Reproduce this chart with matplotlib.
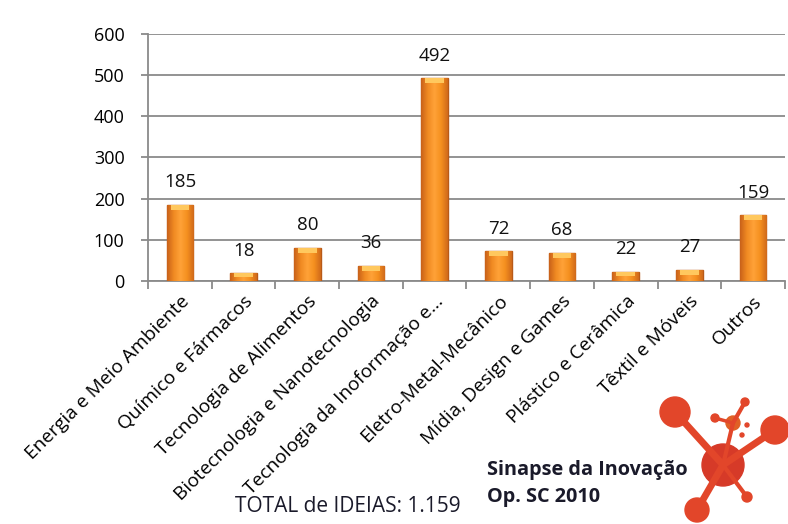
import matplotlib
matplotlib.use("Agg")
import matplotlib.pyplot as plt
import numpy as np
from matplotlib.patches import Circle
from matplotlib.colors import LinearSegmentedColormap

categories = ["Energia e Meio Ambiente", "Químico e Fármacos", "Tecnologia de Alimentos",
              "Biotecnologia e Nanotecnologia", "Tecnologia da Inoformação e...",
              "Eletro-Metal-Mecânico", "Mídia, Design e Games", "Plástico e Cerâmica",
              "Têxtil e Móveis", "Outros"]
values = [185, 18, 80, 36, 492, 72, 68, 22, 27, 159]
yticks = [0, 100, 200, 300, 400, 500, 600]

plt.rcParams['font.family'] = ['Open Sans', 'DejaVu Sans']

fig = plt.figure(figsize=(7.88, 5.24), dpi=100)

# logo layer (decorative), pixel coordinates
lax = fig.add_axes([0, 0, 1, 1], zorder=0)
lax.set_xlim(0, 788)
lax.set_ylim(524, 0)
lax.axis("off")
c = "#E2462A"
cx, cy = 723, 465
for (px, py, r, lw) in [(675, 412, 15, 5), (775, 430, 14, 5), (697, 510, 12, 5), (747, 497, 5, 3)]:
    lax.plot([cx, px], [cy, py], color=c, linewidth=lw, solid_capstyle="round")
    lax.add_patch(Circle((px, py), r, color=c))
lax.plot([cx, 733, 745], [cy, 423, 402], color=c, linewidth=3)
lax.plot([733, 715], [423, 418], color=c, linewidth=2.5)
lax.add_patch(Circle((733, 423), 7, color="#E06025"))
lax.add_patch(Circle((745, 402), 4, color=c))
lax.add_patch(Circle((715, 418), 4, color=c))
lax.add_patch(Circle((747, 425), 2, color=c))
lax.add_patch(Circle((742, 435), 2, color=c))
lax.add_patch(Circle((cx, cy), 21, color="#D63A28"))

ax = fig.add_axes([0.188, 0.464, 0.808, 0.471], zorder=1)
ax.patch.set_alpha(0)
ax.set_ylim(0, 600)
ax.set_xlim(-0.5, len(categories) - 0.5)

x = np.arange(len(categories))
bars = ax.bar(x, values, width=0.42, color="#F2901F", edgecolor="#B85A18", linewidth=1.0, zorder=3)
cmap = LinearSegmentedColormap.from_list("barg", ["#C9621A", "#F08A22", "#FFA238", "#F5901F", "#D06A1B"])
grad = np.linspace(0, 1, 64).reshape(1, -1)
for b in bars:
    x0, w, h = b.get_x(), b.get_width(), b.get_height()
    im = ax.imshow(grad, cmap=cmap, extent=[x0, x0 + w, 0, h], aspect="auto", zorder=3.5,
                   interpolation="bilinear")
    im.set_clip_path(b)
    hl = min(h * 0.5, 12)
    ax.bar(x0 + w / 2, hl, bottom=h - hl, width=w * 0.7,
           color="#FFC85E", linewidth=0, zorder=4)
ax.set_xlim(-0.5, len(categories) - 0.5)
ax.set_ylim(0, 600)

for xi, v in zip(x, values):
    ax.text(xi, v + 55, str(v), ha="center", va="center", fontsize=13.5, color="#111111")

ax.set_yticks(yticks)
ax.set_yticklabels([str(t) for t in yticks], fontsize=13)
ax.yaxis.grid(True, color="#8a8a8a", linewidth=1.3, zorder=0)
ax.tick_params(axis="y", length=5, color="#8a8a8a", width=1.3, pad=12)

ax.set_xticks(np.arange(len(categories) + 1) - 0.5, minor=False)
ax.set_xticklabels([])
ax.tick_params(axis="x", length=6, color="#8a8a8a", width=1.3)
ax.set_xticks(x, minor=True)
ax.set_xticklabels(categories, minor=True, rotation=45, ha="right", rotation_mode="anchor",
                   fontsize=13.8)
ax.tick_params(axis="x", which="minor", length=0, pad=8)

for s in ["top", "right"]:
    ax.spines[s].set_visible(False)
for s in ["left", "bottom"]:
    ax.spines[s].set_color("#8a8a8a")
    ax.spines[s].set_linewidth(1.3)

fig.text(0.298, 0.034, "TOTAL de IDEIAS: 1.159", fontsize=15, color="#1a1a2a", va="center")
fig.text(0.618, 0.103, "Sinapse da Inovação", fontsize=14.3, fontweight="bold", color="#1a1a2a", va="center")
fig.text(0.618, 0.051, "Op. SC 2010", fontsize=14.3, fontweight="bold", color="#1a1a2a", va="center")

fig.savefig("out.png", dpi=100)
